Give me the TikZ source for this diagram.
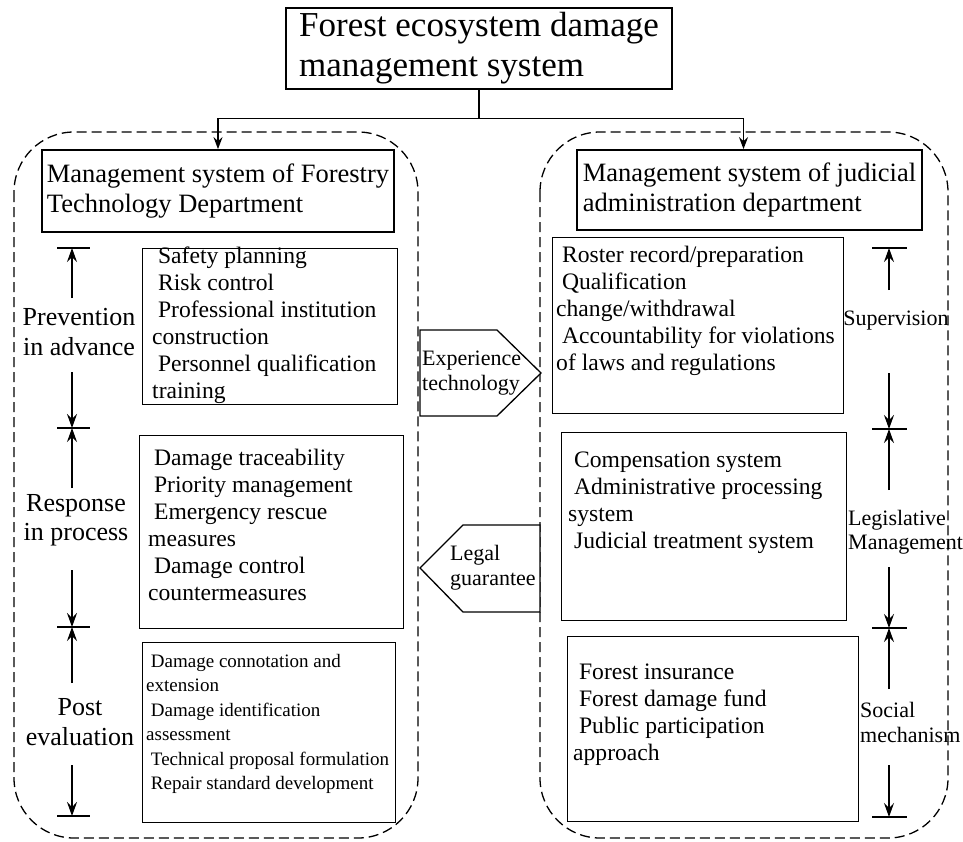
\documentclass[tikz,border=0pt]{standalone}
\usepackage{fontspec}
\setmainfont{Liberation Serif}
\usetikzlibrary{arrows.meta}
\usetikzlibrary{positioning}
\newcommand{\itemsp}{\hspace*{0.25em}}
\tikzset{
    itembox/.style={
        draw,
        line width=1.4pt,
        inner sep=0pt},
    headbox/.style={
        draw,
        line width=1.8pt,
        align=left,
        inner sep=0pt,
        font=\fontsize{26.5}{30}\selectfont},
    itemtext/.style={
        align=left,
        inner sep=0pt,
        anchor=north west,
        font=\fontsize{23.6}{27}\selectfont},
    smalltext/.style={
        itemtext,
        font=\fontsize{19}{24.5}\selectfont},
    stagelabel/.style={
        align=center,
        inner sep=0pt,
        font=\fontsize{26}{29.5}\selectfont},
    sidelabel/.style={
        align=left,
        inner sep=0pt,
        font=\fontsize{22}{24}\selectfont},
    arrowline/.style={
        draw,
        fill=white,
        line width=1.3pt},
    arrowtext/.style={
        align=left,
        inner sep=0pt,
        anchor=west,
        font=\fontsize{22}{25}\selectfont},
    deptborder/.style={
        dash pattern=on 10pt off 5pt,
        line width=1.3pt,
        rounded corners=60pt},
    tickline/.style={line width=1.2pt},
    dimarrow/.style={
        -{Stealth[length=14pt,width=10pt,inset=5pt]},
        line width=1.2pt},
    conn/.style={
        -{Stealth[length=12pt,width=9pt,inset=4pt]},
        line width=1.5pt}}

\begin{document}
\begin{tikzpicture}[x=1pt,y=-1pt]
    \useasboundingbox (0,0) rectangle (963,841);

    % the two departments
    \draw[deptborder] (14,132) rectangle (418,838);
    \draw[deptborder] (540,132) rectangle (948,838);

    \node[headbox,line width=1.4pt,minimum width=386,minimum height=81,
        font=\fontsize{35}{40}\selectfont] (top) at (479,48.5)
        {Forest ecosystem damage\\management system};
    \node[headbox,minimum width=352,minimum height=82] (forestry) at (218,191)
        {Management system of Forestry\\Technology Department};
    \node[headbox,minimum width=345,minimum height=80] (judicial) at (749.5,190)
        {Management system of judicial\\administration department};

    \draw[line width=1.5pt] (top.south) -- ++(0,29) coordinate (split);
    \draw[conn] (split) -| (forestry.north);
    \draw[conn] (split) -| ([xshift=-6pt]judicial.north);

    % forestry side
    \node[itembox,anchor=north west,minimum width=255,minimum height=156] (prev) at (142,248) {};
    \node[itemtext] (prevtxt) at (152,247) {\itemsp Safety planning\\\itemsp Risk control\\
        \itemsp Professional institution\\construction\\\itemsp Personnel qualification\\training};
    \node[itembox,anchor=north west,minimum width=264,minimum height=193] (resp) at (139,435) {};
    \node[itemtext] (resptxt) at (148,449) {\itemsp Damage traceability\\\itemsp Priority management\\
        \itemsp Emergency rescue\\measures\\\itemsp Damage control\\countermeasures};
    \node[itembox,anchor=north west,minimum width=253,minimum height=180] (post) at (142,642) {};
    \node[smalltext] (posttxt) at (146,654) {\itemsp Damage connotation and\\extension\\
        \itemsp Damage identification\\assessment\\\itemsp Technical proposal formulation\\
        \itemsp Repair standard development};

    \node[stagelabel] (prevlab) at (79,332) {Prevention\\in advance};
    \node[stagelabel] (resplab) at (76,520) {Response\\in process};
    \node[stagelabel] (postlab) at (80,722) {Post\\evaluation};

    \foreach \y in {248,428,627,816}
        \draw[tickline] (57,\y) -- (90,\y);
    \foreach \a/\b in {298/248,372/428,488/428,570/627,683/627,765/816}
        \draw[dimarrow] (72,\a) -- (72,\b);

    % judicial side
    \node[itembox,anchor=north west,minimum width=291,minimum height=176] (super) at (552,237) {};
    \node[itemtext] (supertxt) at (556,246) {\itemsp Roster record/preparation\\\itemsp Qualification\\
        change/withdrawal\\\itemsp Accountability for violations\\of laws and regulations};
    \node[itembox,anchor=north west,minimum width=285,minimum height=188] (legis) at (561,432) {};
    \node[itemtext] (legistxt) at (568,452) {\itemsp Compensation system\\\itemsp Administrative processing\\
        system\\\itemsp Judicial treatment system};
    \node[itembox,anchor=north west,minimum width=291,minimum height=185] (social) at (567,636) {};
    \node[itemtext] (socialtxt) at (573,664) {\itemsp Forest insurance\\\itemsp Forest damage fund\\
        \itemsp Public participation\\approach};

    \node[sidelabel] (superlab) at (896,321) {Supervision};
    \node[sidelabel,anchor=west] (legislab) at (848,532) {Legislative\\Management};
    \node[sidelabel,anchor=west,font=\fontsize{22}{25}\selectfont] (sociallab) at (860,722) {Social\\mechanism};

    \foreach \y in {248,429,628,817}
        \draw[tickline] (872,\y) -- (907,\y);
    \foreach \a/\b in {290/248,373/429,490/429,567/628,689/628,765/817}
        \draw[dimarrow] (889,\a) -- (889,\b);

    % exchange between the departments
    \draw[arrowline] (420,330) -- (497,330) -- (541,373) -- (497,416) -- (420,416) -- cycle;
    \node[arrowtext] (exper) at (422,373) {Experience\\technology};
    \draw[arrowline] (540,525) -- (463,525) -- (420,568) -- (463,612) -- (540,612) -- cycle;
    \node[arrowtext] (legal) at (450,568) {Legal\\guarantee};
\end{tikzpicture}
\end{document}
